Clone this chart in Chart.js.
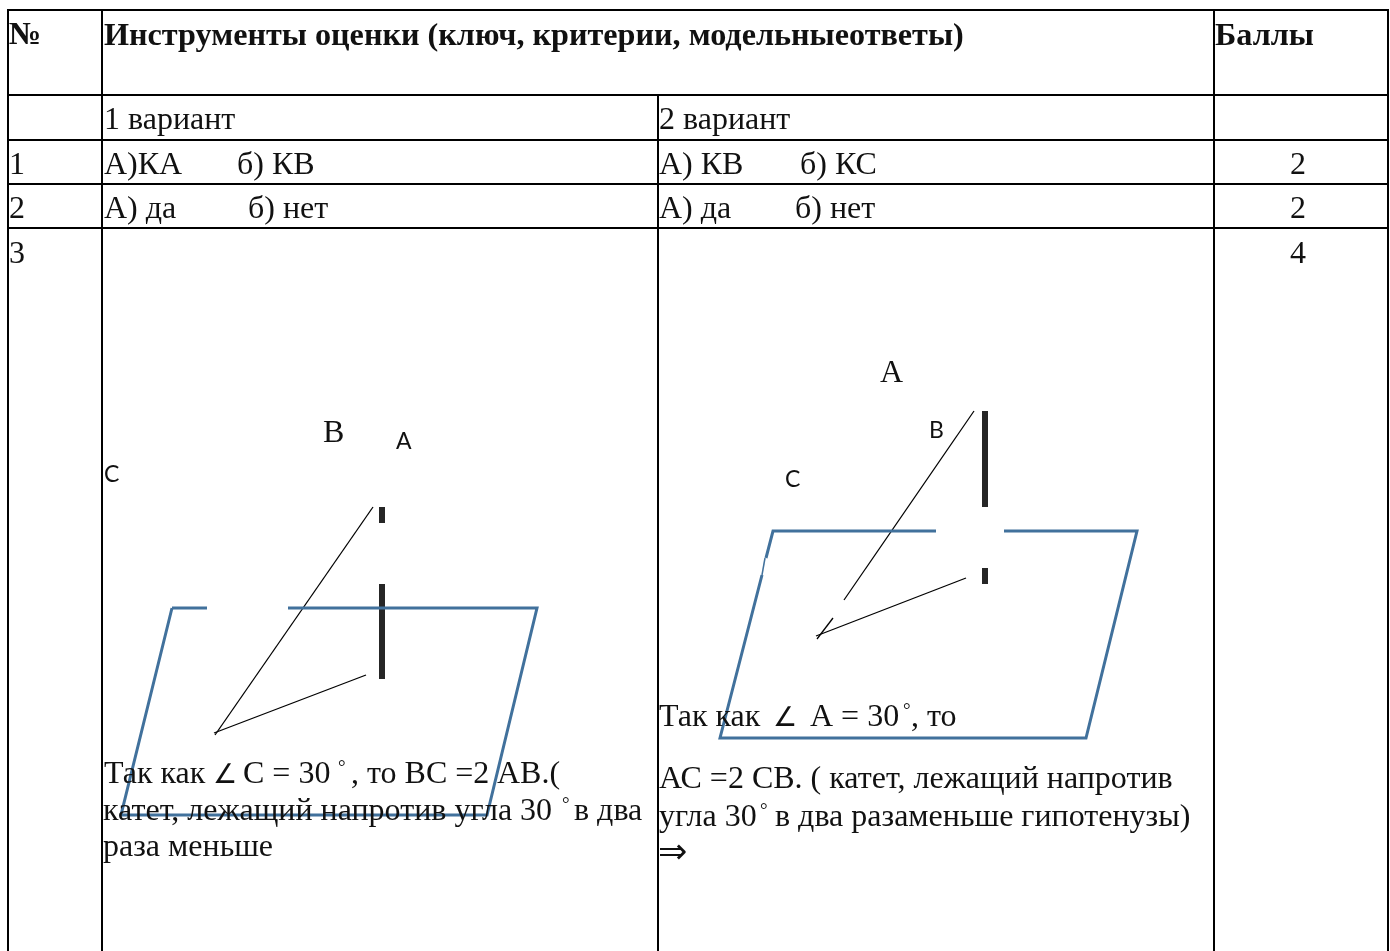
<!DOCTYPE html>
<html>
<head>
<meta charset="utf-8">
<title>Инструменты оценки</title>
<script src="https://cdn.jsdelivr.net/npm/chart.js@4"></script>
<style>
  html, body { margin: 0; padding: 0; background: #fff; overflow: hidden; }
  canvas { display: block; }
</style>
</head>
<body>
<canvas id="sheet" width="1390" height="951"></canvas>
<script>
// table rules, [x1, y1, x2, y2] in page units
const tableRules = [
  [8, 10, 1388, 10], [8, 95, 1388, 95], [8, 140, 1388, 140], [8, 184, 1388, 184], [8, 228, 1388, 228],
  [8, 10, 8, 951], [102, 10, 102, 951], [658, 95, 658, 951], [1214, 10, 1214, 951], [1388, 10, 1388, 951]
];

// planes, one list per unbroken stroke
const planes = [
  [[172, 608], [207, 608]],
  [[288, 608], [537, 608], [487, 815], [121, 815], [172, 608]],
  [[936, 531], [773, 531], [766, 558]],
  [[762, 575], [720, 738], [1086, 738], [1137, 531], [1004, 531]]
];
// the narrow stretch on the left edge of the second plane
const planeSliver = [[765, 558], [762, 575]];

const thinLines = [
  [[373, 507], [215, 735]],
  [[214, 733], [366, 675]],
  [[974, 411], [844, 600]],
  [[966, 578], [816, 636]],
  [[833, 618], [817, 639]]
];

const bars = [
  [[382, 507], [382, 523]],
  [[382, 584], [382, 679]],
  [[985, 411], [985, 507]],
  [[985, 568], [985, 584]]
];

// text, x, baseline y
const boldTexts = [
  ['№', 9, 44],
  ['Инструменты оценки (ключ, критерии, модельныеответы)', 104, 45],
  ['Баллы', 1215, 45]
];
const serifTexts = [
  ['1 вариант', 104, 129], ['2 вариант', 659, 129],
  ['1', 9, 174], ['А)КА', 104, 174], ['б) КВ', 237, 174], ['А) КВ', 659, 174], ['б) КС', 800, 174],
  ['2', 9, 218], ['А) да', 104, 218], ['б) нет', 248, 218], ['А) да', 659, 218], ['б) нет', 795, 218],
  ['3', 9, 263],
  ['В', 323, 442], ['А', 880, 382],
  ['Так как', 104, 783], ['C = 30', 243, 783], [', то ВС =2', 351, 783], ['АВ.(', 497, 783],
  ['катет, лежащий напротив угла 30', 103, 820], ['в два', 574, 820],
  ['раза меньше', 103, 856],
  ['Так как', 659, 726], ['А = 30', 810, 726], [', то', 911, 726],
  ['АС =2 СВ. ( катет, лежащий напротив', 659, 788],
  ['угла 30', 659, 826], ['в два разаменьше гипотенузы)', 775, 826]
];
const degreeTexts = [
  ['°', 338, 773], ['°', 562, 810], ['°', 903, 716], ['°', 760, 816]
];
const centredTexts = [['2', 1298, 174], ['2', 1298, 218], ['4', 1298, 263]];
const sansTexts = [
  ['А', 396, 449], ['С', 104, 482], ['В', 929, 438], ['С', 785, 487]
];
const angleTexts = [['∠', 213, 783], ['∠', 773, 726]];
const arrowTexts = [['⇒', 658, 863]];

const toPoints = pts => pts.map(p => ({ x: p[0], y: p[1] }));

function strokeSet(pts, color, width, cap) {
  return {
    data: toPoints(pts),
    showLine: true,
    borderColor: color,
    borderWidth: width,
    borderCapStyle: cap || 'butt',
    borderJoinStyle: 'miter',
    pointRadius: 0,
    tension: 0
  };
}

const datasets = [
  ...tableRules.map(r => strokeSet([[r[0], r[1]], [r[2], r[3]]], '#000', 2, 'square')),
  ...planes.map(p => strokeSet(p, '#41719c', 3)),
  strokeSet(planeSliver, '#41719c', 1.5),
  ...thinLines.map(p => strokeSet(p, '#000', 1.3)),
  ...bars.map(p => strokeSet(p, '#262626', 6))
];

const textPlugin = {
  id: 'sheetText',
  afterDatasetsDraw(chart) {
    const { ctx, scales: { x, y } } = chart;
    const put = (rows, font, align) => {
      ctx.font = font;
      ctx.textAlign = align || 'left';
      rows.forEach(r => ctx.fillText(r[0], x.getPixelForValue(r[1]), y.getPixelForValue(r[2])));
    };
    ctx.save();
    ctx.fillStyle = '#111';
    ctx.textBaseline = 'alphabetic';
    put(boldTexts, 'bold 32.2px "Liberation Serif"');
    put(serifTexts, '32px "Liberation Serif"');
    put(centredTexts, '32px "Liberation Serif"', 'center');
    put(degreeTexts, '19px "Liberation Serif"');
    put(sansTexts, '23px Lato');
    put(angleTexts, '200 27px "DejaVu Sans"');
    put(arrowTexts, '35px "DejaVu Sans"');
    ctx.restore();
  }
};

new Chart(document.getElementById('sheet'), {
  type: 'scatter',
  data: { datasets },
  options: {
    responsive: false,
    animation: false,
    layout: { padding: 0 },
    plugins: { legend: { display: false }, tooltip: { enabled: false } },
    scales: {
      x: { type: 'linear', display: false, min: 0, max: 1390 },
      y: { type: 'linear', display: false, min: 0, max: 951, reverse: true }
    }
  },
  plugins: [textPlugin]
});
</script>
</body>
</html>
